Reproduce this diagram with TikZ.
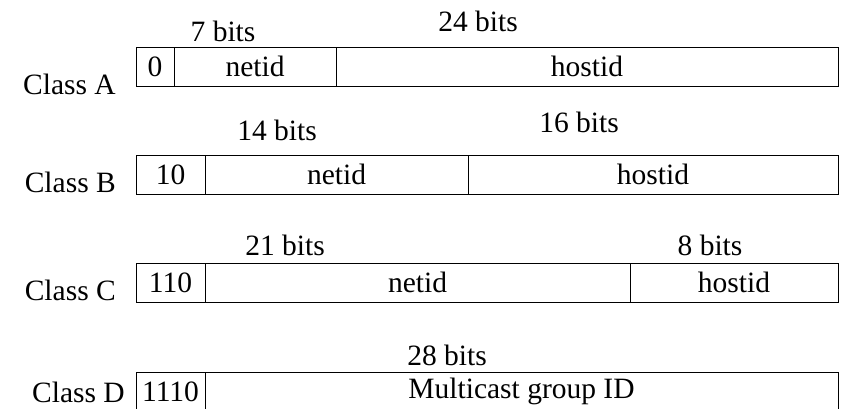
\documentclass[tikz,border=0pt]{standalone}
\usepackage{fontspec}
\setmainfont{Liberation Serif}

\begin{document}
\begin{tikzpicture}[x=1pt,y=-1pt,
  every node/.style={font=\fontsize{29.5}{34}\selectfont},
  field/.style={draw,line width=0.9pt,outer sep=0pt,inner sep=0pt,
    minimum height=39pt,anchor=north west},
  tag/.style={anchor=base east,inner sep=0pt},
  width/.style={anchor=base,inner sep=0pt}]
  \useasboundingbox (0,0) rectangle (843,409);
  \clip (0,0) rectangle (843,409);
  \node[tag] (CA) at (116,95) {Class A};
  \node[field,minimum width=38pt] (A1) at (136,47) {0};
  \node[field,minimum width=162pt] (A2) at (A1.north east) {netid};
  \node[field,minimum width=502pt] (A3) at (A2.north east) {hostid};
  \node[width] (WA2) at (223,42) {7 bits};
  \node[width] (WA3) at (478,32) {24 bits};
  \node[tag] (CB) at (116,192) {Class B};
  \node[field,minimum width=69pt] (B1) at (136,155) {10};
  \node[field,minimum width=263pt] (B2) at (B1.north east) {netid};
  \node[field,minimum width=370pt] (B3) at (B2.north east) {hostid};
  \node[width] (WB2) at (277,140) {14 bits};
  \node[width] (WB3) at (579,132) {16 bits};
  \node[tag] (CC) at (116,300) {Class C};
  \node[field,minimum width=69pt] (C1) at (136,263) {110};
  \node[field,minimum width=425pt] (C2) at (C1.north east) {netid};
  \node[field,minimum width=208pt] (C3) at (C2.north east) {hostid};
  \node[width] (WC2) at (285,255) {21 bits};
  \node[width] (WC3) at (710,255) {8 bits};
  \node[tag] (CD) at (125,402) {Class D};
  \node[field,minimum width=69pt] (D1) at (136,372) {1110};
  \node[field,minimum width=633pt] (D2) at (D1.north east) {Multicast group ID};
  \node[width] (WD2) at (447,365) {28 bits};
\end{tikzpicture}
\end{document}
